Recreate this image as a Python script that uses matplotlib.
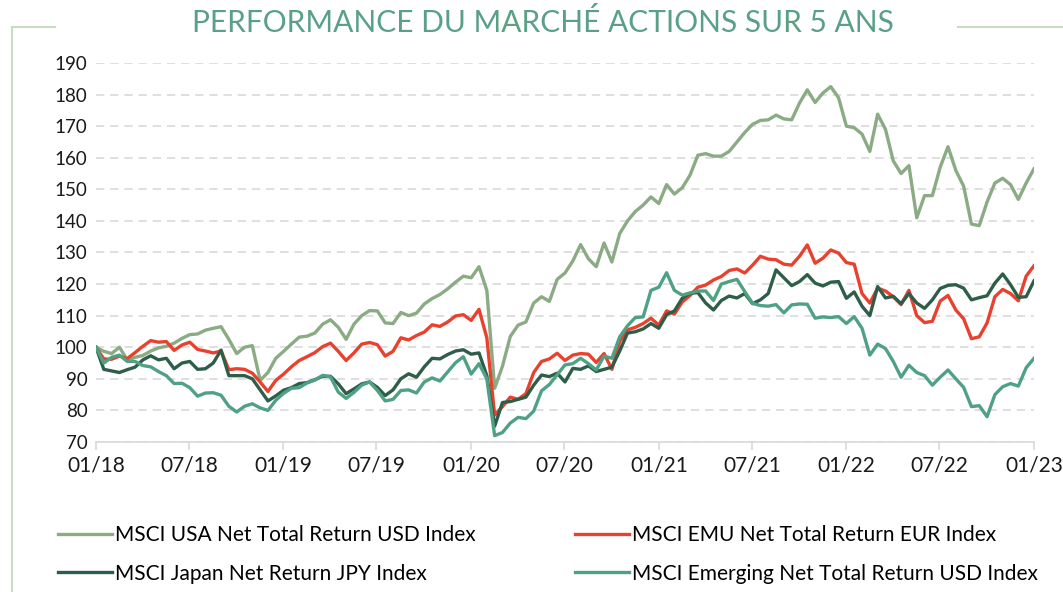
import pandas as pd
import matplotlib.pyplot as plt
import matplotlib.dates as mdates
from matplotlib.lines import Line2D

# semi-monthly observations, base 100 at 01/2018
dates = pd.date_range('2018-01-01', '2023-01-01', periods=121)

usa = [100, 98.7, 98, 100, 96, 96.8, 97.4, 98.8, 99.8, 100.3,
       101.3, 102.8, 104, 104.2, 105.4, 106, 106.5, 102.5, 98, 100,
       100.5, 89.5, 92, 96.5, 98.7, 101, 103.2, 103.5, 104.5, 107.3,
       108.7, 106.3, 102.5, 107.3, 110, 111.6, 111.5, 107.7, 107.5, 111,
       110, 110.8, 113.7, 115.4, 116.7, 118.5, 120.6, 122.5, 122, 125.5,
       118, 87, 94, 103.4, 107, 108, 114, 116, 114.5, 121.5,
       123.5, 127.3, 132.5, 128, 125.5, 133, 127, 136, 140, 143,
       145, 147.6, 145.5, 151.5, 148.5, 150.5, 154.5, 160.8, 161.3, 160.5,
       160.5, 162, 165, 168, 170.6, 171.8, 172, 173.5, 172.3, 172,
       177.3, 181.5, 177.5, 180.5, 182.5, 179, 170, 169.5, 167.5, 162,
       173.8, 169, 159, 155, 157.5, 141, 148, 148, 157, 163.5,
       156, 151, 139, 138.5, 146, 152, 153.5, 151.5, 146.8, 152,
       156.5]

emu = [100, 96.3, 96.2, 97.2, 96.4, 98.3, 100.3, 102.1, 101.6, 101.8,
       99, 100.7, 101.6, 99.3, 98.8, 98.2, 98.8, 92.9, 93.2, 93,
       91.8, 89, 86, 89.5, 91.5, 93.8, 95.8, 97, 98.3, 100.2,
       101.3, 98.7, 95.8, 98.2, 101, 101.5, 100.8, 97.2, 98.7, 103,
       102.3, 103.7, 104.8, 107.1, 106.6, 108, 109.9, 110.3, 108.5, 112,
       103, 78.5, 81.2, 84.2, 83.5, 85.3, 92, 95.5, 96.3, 98.1,
       95.8, 97.5, 98, 97.8, 95.2, 98, 93, 101.8, 105.5, 106.3,
       107.5, 109.2, 107, 111.5, 110.5, 114.3, 116.4, 119, 119.7, 121.3,
       122.4, 124.3, 124.8, 123.5, 126, 128.8, 127.9, 127.7, 126.3, 126,
       128.8, 132.4, 126.6, 128.2, 130.8, 129.8, 126.8, 126.3, 117, 114,
       118.7, 117.8, 116, 113.5, 118, 110, 107.8, 108.2, 114.6, 116.4,
       111.8, 109, 102.7, 103.3, 107.7, 116, 118.3, 117, 114.7, 122.5,
       125.8]

japan = [100, 93, 92.5, 92, 92.9, 93.7, 96, 97.3, 96, 96.5,
         93.2, 95, 95.5, 93, 93.2, 95, 99.1, 91, 91, 91,
         90, 86.5, 83, 84.6, 86.4, 87.2, 88.5, 88.8, 89.7, 90.8,
         90.8, 88.4, 85.3, 86.8, 88.4, 89, 87.3, 84.7, 86.5, 90,
         91.6, 90.5, 93.8, 96.5, 96.3, 97.7, 98.8, 99.2, 97.8, 98.2,
         91, 75, 82.5, 82.8, 83.5, 84.2, 88, 91.2, 90.7, 91.8,
         89, 93.3, 93, 94.1, 92.3, 93, 93.7, 98.8, 104.5, 104.9,
         105.8, 107.5, 106, 110.3, 111.5, 115.5, 117.1, 117.3, 114, 111.8,
         114.8, 116.2, 115.6, 117, 113.8, 115, 117, 124.5, 122, 119.5,
         120.8, 123, 120.3, 119.4, 120.6, 120.8, 115.5, 117.5, 113, 110,
         119.2, 115.6, 116.1, 113.8, 117, 114, 112.3, 115, 118.6, 119.6,
         119.8, 118.7, 115, 115.7, 116.3, 120.3, 123.2, 119.8, 115.8, 116,
         121]

emerging = [100, 95, 96.8, 97.5, 95.5, 95.5, 94.2, 93.8, 92.3, 91,
            88.5, 88.6, 87.2, 84.5, 85.5, 85.6, 84.8, 81.3, 79.5, 81.3,
            82.1, 80.8, 80, 83.2, 85.4, 87, 87.2, 88.7, 89.6, 91.1,
            90.6, 85.8, 83.8, 85.7, 88, 89, 86.3, 83, 83.5, 86.3,
            86.5, 85.5, 89, 90.3, 89.3, 92.2, 95.1, 97, 91.5, 94.8,
            90, 72, 73, 76, 77.8, 77.4, 79.8, 86.2, 88.2, 91.3,
            94.4, 94.8, 96.5, 94.8, 92.8, 97.2, 96.5, 103.3, 106.8, 109.4,
            109.6, 118, 119, 123.6, 118, 116.5, 117.2, 117.8, 117.8, 114.8,
            120, 120.8, 121.5, 117.6, 113.9, 113.2, 113, 113.5, 110.9, 113.4,
            113.7, 113.6, 109.2, 109.6, 109.4, 109.7, 107.5, 109.7, 106, 97.5,
            101, 99.6, 95.5, 90.5, 94.3, 92, 91, 88, 90.5, 92.8,
            90, 87.3, 81.2, 81.5, 78, 85, 87.5, 88.5, 87.7, 93.5,
            96.5]

labels = ['MSCI USA Net Total Return USD Index',
          'MSCI EMU Net Total Return EUR Index',
          'MSCI Japan Net Return JPY Index',
          'MSCI Emerging Net Total Return USD Index']
values = [usa, emu, japan, emerging]
colors = ['#8aab84', '#e8412e', '#2e5e4a', '#4fa184']

plt.rcParams['font.family'] = ['Lato', 'DejaVu Sans']

fig = plt.figure(figsize=(10.63, 5.92), dpi=100)
ax = fig.add_axes([0.0903, 0.2534, 0.8824, 0.6402])

lines = []
for label, vals, color in zip(labels, values, colors):
    ln, = ax.plot(dates, vals, color=color, linewidth=2.4, label=label)
    lines.append(ln)

ax.set_ylim(70, 190)
ax.set_yticks(range(70, 191, 10))
ax.set_xlim(pd.Timestamp('2018-01-01'), pd.Timestamp('2023-01-01'))
ax.xaxis.set_major_locator(mdates.MonthLocator(bymonth=[1, 7]))
ax.xaxis.set_major_formatter(mdates.DateFormatter('%m/%y'))

ax.grid(axis='y', color='#d9d9d9', linestyle=(0, (5, 3.5)), linewidth=1.2)
ax.set_axisbelow(True)
for s in ['top', 'right', 'left']:
    ax.spines[s].set_visible(False)
ax.spines['bottom'].set_color('#d9d9d9')
ax.spines['bottom'].set_linewidth(1.2)
ax.tick_params(axis='x', colors='#d9d9d9', length=6, width=1.2,
               labelcolor='#1a1a1a', labelsize=15, pad=4)
ax.tick_params(axis='y', length=0, labelcolor='#1a1a1a', labelsize=13.5, pad=6)

fig.text(0.511, 0.962, 'PERFORMANCE DU MARCHÉ ACTIONS SUR 5 ANS',
         ha='center', va='center', fontsize=21.5, color='#5aa086')

# decorative frame
frame = '#c8dcc4'
fig.add_artist(Line2D([12 / 1063, 12 / 1063], [0, 1 - 27 / 592],
                      color=frame, linewidth=1.5))
fig.add_artist(Line2D([12 / 1063, 55 / 1063], [1 - 27 / 592, 1 - 27 / 592],
                      color=frame, linewidth=1.5))
fig.add_artist(Line2D([958 / 1063, 1.0], [1 - 27 / 592, 1 - 27 / 592],
                      color=frame, linewidth=1.5))

# row-wise legend order: USA, EMU / Japan, Emerging
order = [0, 2, 1, 3]
fig.legend([lines[i] for i in order], [labels[i] for i in order],
           loc='lower left', bbox_to_anchor=(0.0546, 0.014), ncol=2,
           frameon=False, fontsize=15, handlelength=2.6, handletextpad=0.15,
           columnspacing=4.75, labelspacing=0.9, borderpad=0,
           borderaxespad=0)

fig.savefig('out.png', dpi=100)
